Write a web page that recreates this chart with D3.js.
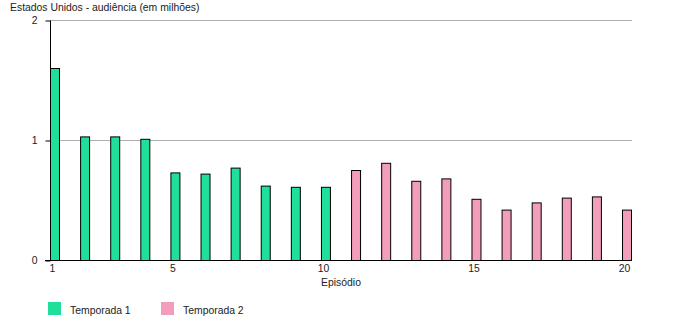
<!DOCTYPE html>
<html><head><meta charset="utf-8">
<script src="https://cdn.jsdelivr.net/npm/d3@7"></script>
<style>
body{margin:0;background:#fff;}
text{font-family:"Liberation Sans",Arial,sans-serif;font-size:10.4px;fill:#222;}
</style></head>
<body><svg id="c" width="681" height="330"></svg>
<script>
const episodes = d3.range(1, 21);
const season = [1,1,1,1,1,1,1,1,1,1,2,2,2,2,2,2,2,2,2,2];
const viewers = [1.60,1.03,1.03,1.01,0.73,0.72,0.77,0.62,0.61,0.61,
                 0.75,0.81,0.66,0.68,0.51,0.42,0.48,0.52,0.53,0.42];
const seasonNames = ["Temporada 1","Temporada 2"];
const seasonColors = ["#1fdf9a","#f19dbb"];
const xTicks = [1,5,10,15,20];
const yTicks = [0,1,2];
const title = "Estados Unidos - audiência (em milhões)";
const xTitle = "Episódio";

const FS = 10.4;
const svg = d3.select("#c");
const x = d3.scaleLinear().domain([1,20]).range([50.5,622.5]);
const y = d3.scaleLinear().domain([0,2]).range([260.5,20.5]);
const barW = 9;

svg.append("text").attr("x",10).attr("y",11).text(title);

// gridlines
svg.append("g").selectAll("line").data(yTicks.filter(d=>d>0)).join("line")
  .attr("x1",50).attr("x2",632).attr("y1",d=>y(d)).attr("y2",d=>y(d))
  .attr("stroke","#b0b0b0").attr("stroke-width",1);

// y axis
const ya = svg.append("g").attr("transform","translate(50.5,0)")
  .call(d3.axisLeft(y).tickValues(yTicks).tickSize(5).tickPadding(8).tickFormat(d3.format("d")));
ya.select(".domain").attr("stroke","#000").attr("d","M0,"+y(0)+"V"+y(2));
ya.selectAll("line").attr("stroke","#000");
ya.selectAll("text").attr("font-size",FS).attr("fill","#222").style("font-family","Liberation Sans, Arial, sans-serif");

// bars
svg.append("g").selectAll("rect").data(episodes).join("rect")
  .attr("x",(d)=>x(d)).attr("width",barW)
  .attr("y",(d,i)=>y(viewers[i])).attr("height",(d,i)=>y(0)-y(viewers[i]))
  .attr("fill",(d,i)=>seasonColors[season[i]-1])
  .attr("stroke","#000").attr("stroke-width",1);

// x axis
svg.append("line").attr("x1",45).attr("x2",632).attr("y1",y(0)).attr("y2",y(0)).attr("stroke","#000");
const xa = svg.append("g").attr("transform","translate(1.5,"+y(0)+")")
  .call(d3.axisBottom(x).tickValues(xTicks).tickSize(0).tickPadding(4).tickFormat(d3.format("d")));
xa.select(".domain").remove();
xa.selectAll("text").attr("font-size",FS).attr("fill","#222").style("font-family","Liberation Sans, Arial, sans-serif");

svg.append("text").attr("x",341).attr("y",286).attr("text-anchor","middle").text(xTitle);

// legend
const lg = svg.append("g").selectAll("g").data(seasonNames).join("g")
  .attr("transform",(d,i)=>"translate("+(48+i*113)+",302)");
lg.append("rect").attr("width",13).attr("height",13).attr("fill",(d,i)=>seasonColors[i]);
lg.append("text").attr("x",22).attr("y",11.5).text(d=>d);
</script></body></html>
